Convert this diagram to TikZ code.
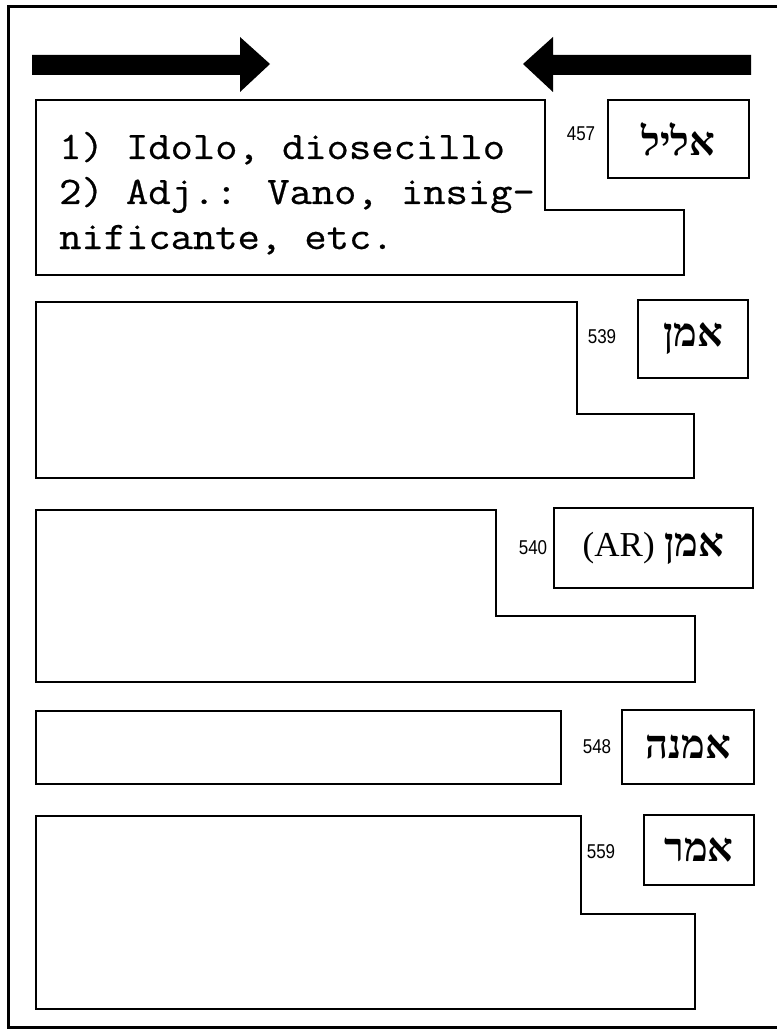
\documentclass[tikz,border=0pt]{standalone}
\usepackage{fontspec}
\TeXXeTstate=1
\newfontfamily\hebfont[Script=Hebrew]{Liberation Serif}
\newfontfamily\serfont{Liberation Serif}
\newfontfamily\numfont[FakeStretch=0.85]{Liberation Sans}
\newfontfamily\deftt[FakeStretch=1.11,FakeBold=0.6]{Latin Modern Mono}
\begin{document}
\begin{tikzpicture}[x=1pt,y=-1pt,
  box/.style={draw,line width=2.8pt,line join=miter},
  lemma/.style={draw,line width=2.8pt,inner sep=0pt,font=\hebfont\bfseries\fontsize{40}{44}\selectfont},
  num/.style={inner sep=0pt,font=\numfont\fontsize{20}{22}\selectfont},
  deftext/.style={inner sep=0pt,anchor=base west,font=\deftt\fontsize{39}{45}\selectfont},
  bigarrow/.style={fill=black}]
\useasboundingbox (0,0) rectangle (777,1035);
% frame
\draw[line width=3pt] (777,7) -- (8,7) -- (8,1027) -- (777,1027);
% arrows
\fill[bigarrow] (32,55) -- (240,55) -- (240,37) -- (270,64) -- (240,92) -- (240,75) -- (32,75) -- cycle;
\fill[bigarrow] (751,55) -- (553,55) -- (553,37) -- (523,64) -- (553,92) -- (553,75) -- (751,75) -- cycle;
% entry 1
\draw[box] (36,100) -- (545,100) -- (545,210) -- (684,210) -- (684,275) -- (36,275) -- cycle;
\node[lemma,minimum width=141pt,minimum height=78pt] (h1) at (678.5,139) {\beginR אליל\endR};
\node[num] (n1) at (581,134) {457};
\node[deftext] (t1) at (59,159) {1) Idolo, diosecillo};
\node[deftext] (t2) at (59,204) {2) Adj.: Vano, insig-};
\node[deftext] (t3) at (59,249) {nificante, etc.};
% entry 2
\draw[box] (36,302) -- (577,302) -- (577,414) -- (694,414) -- (694,478) -- (36,478) -- cycle;
\node[lemma,minimum width=110pt,minimum height=78pt] (h2) at (693,339) {\beginR אמן\endR};
\node[num] (n2) at (602,337) {539};
% entry 3
\draw[box] (36,510) -- (496,510) -- (496,616) -- (695,616) -- (695,682) -- (36,682) -- cycle;
\node[lemma,minimum width=199pt,minimum height=80pt] (h3) at (653.5,548) {{\serfont\mdseries\fontsize{35}{40}\selectfont (AR)}\hspace{10pt}\beginR אמן\endR};
\node[num] (n3) at (533,548) {540};
% entry 4
\draw[box] (36,711) rectangle (561,784);
\node[lemma,minimum width=132pt,minimum height=74pt] (h4) at (688,747) {\beginR אמנה\endR};
\node[num] (n4) at (597,747) {548};
% entry 5
\draw[box] (36,816) -- (581,816) -- (581,914) -- (695,914) -- (695,1009) -- (36,1009) -- cycle;
\node[lemma,minimum width=110pt,minimum height=70pt] (h5) at (699,850) {\beginR אמר\endR};
\node[num] (n5) at (601,852) {559};
\end{tikzpicture}
\end{document}
